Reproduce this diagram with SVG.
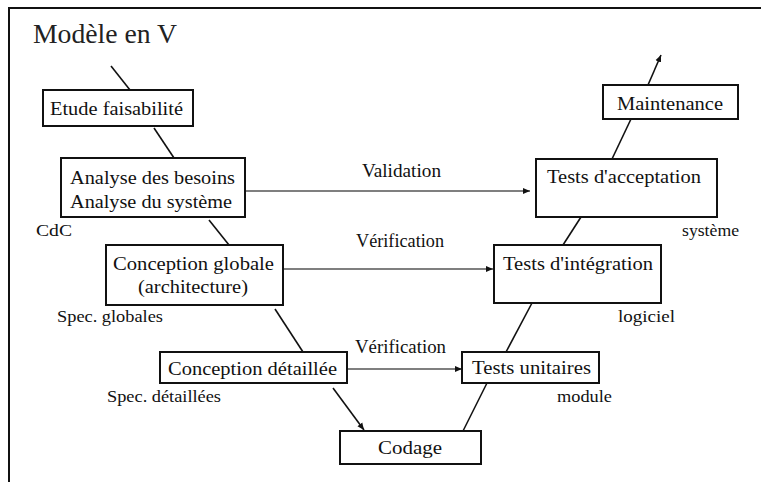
<svg xmlns="http://www.w3.org/2000/svg" width="761" height="482" viewBox="0 0 761 482">
<style>
  .box { fill: #fff; stroke: #111; stroke-width: 2; }
  .t { font-size: 18px; }
  .s { font-size: 16px; }
  .title { font-size: 27px; fill: #222; }
  .c { stroke: #111; stroke-width: 1.6; fill: none; }
  .h { stroke: #555; stroke-width: 1.3; fill: none; }
</style>
<defs>
  <marker id="ah" markerWidth="8" markerHeight="8" refX="7" refY="4" orient="auto" markerUnits="userSpaceOnUse">
    <path d="M0,1 L7,4 L0,7 Z" fill="#111"/>
  </marker>
</defs>
<rect width="761" height="482" fill="#fff"/>
<path d="M9,482 V8 H761" fill="none" stroke="#111" stroke-width="2"/>
<g font-family="Liberation Serif, DejaVu Serif, serif" fill="#111">
<text class="title" x="33" y="43" textLength="144" lengthAdjust="spacingAndGlyphs">Modèle en V</text>

<g id="connectors">
  <line class="c" x1="111" y1="66" x2="130" y2="90"/>
  <line class="c" x1="154" y1="128" x2="174" y2="158"/>
  <line class="c" x1="209" y1="220" x2="229" y2="245"/>
  <line class="c" x1="275" y1="309" x2="303" y2="352"/>
  <line class="c" x1="333" y1="388" x2="364" y2="430" marker-end="url(#ah)"/>
  <line class="c" x1="463" y1="431" x2="487" y2="383"/>
  <line class="c" x1="506" y1="352" x2="532" y2="303"/>
  <line class="c" x1="563" y1="245" x2="581" y2="217"/>
  <line class="c" x1="612" y1="159" x2="631" y2="119"/>
  <line class="c" x1="648" y1="85" x2="661" y2="55" marker-end="url(#ah)"/>
  <line class="h" x1="245" y1="191" x2="530" y2="191" marker-end="url(#ah)"/>
  <line class="h" x1="283" y1="269" x2="493" y2="269" marker-end="url(#ah)"/>
  <line class="h" x1="347" y1="369" x2="462" y2="369" marker-end="url(#ah)"/>
  <text class="t" x="362" y="177" textLength="79" lengthAdjust="spacingAndGlyphs">Validation</text>
  <text class="t" x="356" y="247" textLength="88" lengthAdjust="spacingAndGlyphs">Vérification</text>
  <text class="t" x="355" y="353" textLength="91" lengthAdjust="spacingAndGlyphs">Vérification</text>
</g>

<g id="etude">
  <rect class="box" x="43" y="90" width="150" height="36"/>
  <text class="t" x="50" y="115" textLength="133" lengthAdjust="spacingAndGlyphs">Etude faisabilité</text>
</g>
<g id="analyse">
  <rect class="box" x="61" y="158" width="184" height="59"/>
  <text class="t" x="70" y="184" textLength="165" lengthAdjust="spacingAndGlyphs">Analyse des besoins</text>
  <text class="t" x="70" y="208" textLength="162" lengthAdjust="spacingAndGlyphs">Analyse du système</text>
  <text class="s" x="36" y="236" textLength="36" lengthAdjust="spacingAndGlyphs">CdC</text>
</g>
<g id="conception-globale">
  <rect class="box" x="106" y="245" width="177" height="60"/>
  <text class="t" x="113" y="270" textLength="161" lengthAdjust="spacingAndGlyphs">Conception globale</text>
  <text class="t" x="138" y="293" textLength="110" lengthAdjust="spacingAndGlyphs">(architecture)</text>
  <text class="s" x="57" y="322" textLength="106" lengthAdjust="spacingAndGlyphs">Spec. globales</text>
</g>
<g id="conception-detaillee">
  <rect class="box" x="160" y="352" width="187" height="31"/>
  <text class="t" x="168" y="375" textLength="169" lengthAdjust="spacingAndGlyphs">Conception détaillée</text>
  <text class="s" x="107" y="402" textLength="114" lengthAdjust="spacingAndGlyphs">Spec. détaillées</text>
</g>
<g id="codage">
  <rect class="box" x="340" y="431" width="141" height="33"/>
  <text class="t" x="378" y="454" textLength="64" lengthAdjust="spacingAndGlyphs">Codage</text>
</g>
<g id="tests-unitaires">
  <rect class="box" x="462" y="352" width="137" height="31"/>
  <text class="t" x="472" y="374" textLength="119" lengthAdjust="spacingAndGlyphs">Tests unitaires</text>
  <text class="s" x="557" y="402" textLength="55" lengthAdjust="spacingAndGlyphs">module</text>
</g>
<g id="tests-integration">
  <rect class="box" x="494" y="245" width="167" height="58"/>
  <text class="t" x="503" y="270" textLength="150" lengthAdjust="spacingAndGlyphs">Tests d'intégration</text>
  <text class="s" x="618" y="322" textLength="57" lengthAdjust="spacingAndGlyphs">logiciel</text>
</g>
<g id="tests-acceptation">
  <rect class="box" x="536" y="159" width="181" height="58"/>
  <text class="t" x="547" y="183" textLength="154" lengthAdjust="spacingAndGlyphs">Tests d'acceptation</text>
  <text class="s" x="682" y="236" textLength="57" lengthAdjust="spacingAndGlyphs">système</text>
</g>
<g id="maintenance">
  <rect class="box" x="603" y="85" width="135" height="34"/>
  <text class="t" x="617" y="110" textLength="106" lengthAdjust="spacingAndGlyphs">Maintenance</text>
</g>
</g>
</svg>
